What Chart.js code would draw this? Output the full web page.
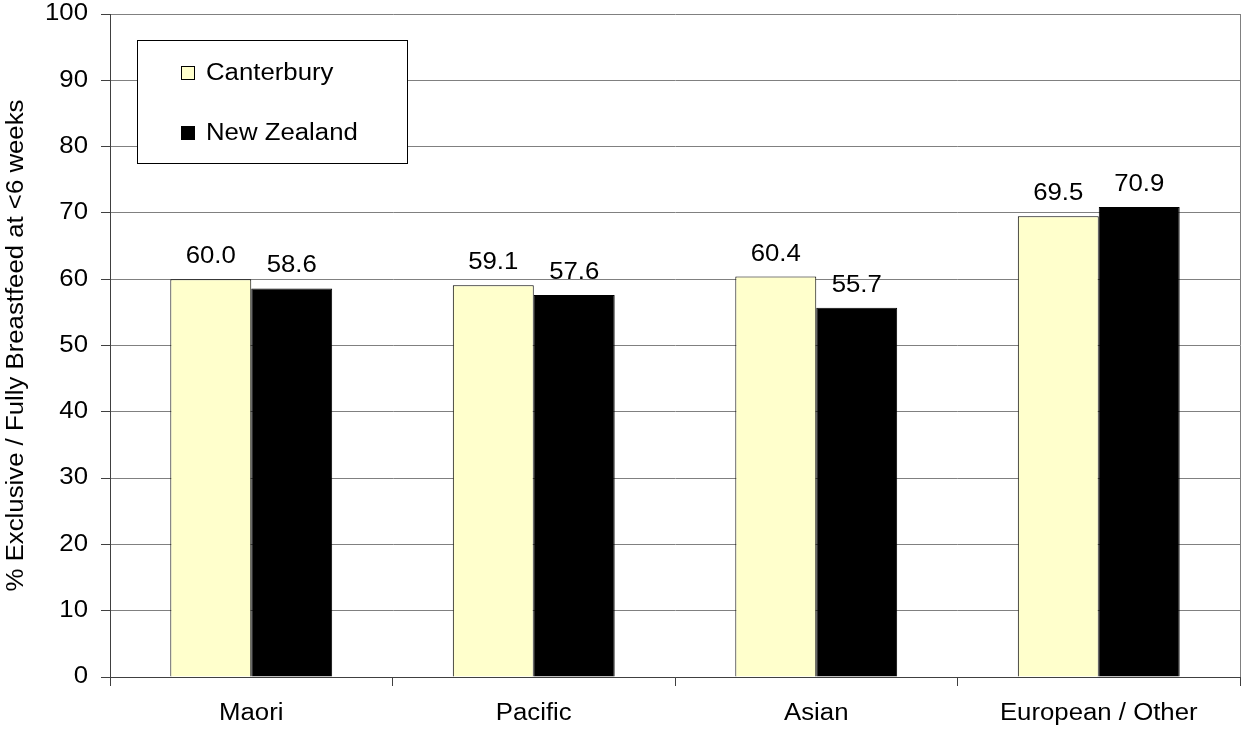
<!DOCTYPE html>
<html>
<head>
<meta charset="utf-8">
<title>Exclusive / Fully Breastfeed at &lt;6 weeks by ethnicity</title>
<script src="https://cdn.jsdelivr.net/npm/chart.js@4.4.1/dist/chart.umd.min.js"></script>
<style>
  html, body { margin: 0; padding: 0; background: #ffffff; }
  canvas { display: block; }
</style>
</head>
<body>
<canvas id="chart" width="1241" height="729"></canvas>
<script>
// ---- data ----
const categories = ['Maori', 'Pacific', 'Asian', 'European / Other'];
const seriesNames = ['Canterbury', 'New Zealand'];
const canterbury = [60.0, 59.1, 60.4, 69.5];
const newZealand = [58.6, 57.6, 55.7, 70.9];
const yAxisTitle = '% Exclusive / Fully Breastfeed at <6 weeks';

// ---- styling ----
const FAMILY = "'Liberation Sans', Arial, sans-serif";
const FONT_SIZE = 23;
const FONT = FONT_SIZE + 'px ' + FAMILY;
const TEXT_WIDEN = 1.12;           // glyphs are drawn slightly wider than normal
const GRID = '#808080';
const AXIS = '#404040';

// Draws every piece of text a little wider along its own baseline.
const wideText = {
  id: 'wideText',
  beforeInit(chart) {
    const ctx = chart.ctx;
    const fill = ctx.fillText.bind(ctx);
    const measure = ctx.measureText.bind(ctx);
    ctx.fillText = function (text, x, y) {
      ctx.save();
      ctx.translate(x, y);
      ctx.scale(TEXT_WIDEN, 1);
      fill(text, 0, 0);
      ctx.restore();
    };
    ctx.measureText = function (text) {
      const m = measure(text);
      return {
        width: m.width * TEXT_WIDEN,
        actualBoundingBoxAscent: m.actualBoundingBoxAscent,
        actualBoundingBoxDescent: m.actualBoundingBoxDescent,
        actualBoundingBoxLeft: m.actualBoundingBoxLeft * TEXT_WIDEN,
        actualBoundingBoxRight: m.actualBoundingBoxRight * TEXT_WIDEN
      };
    };
  }
};

// Thin frame line on the right side of the plot area.
const plotFrame = {
  id: 'plotFrame',
  beforeDatasetsDraw(chart) {
    const { ctx, chartArea } = chart;
    ctx.save();
    ctx.strokeStyle = GRID;
    ctx.lineWidth = 1;
    ctx.beginPath();
    ctx.moveTo(chartArea.right + 0.5, chartArea.top);
    ctx.lineTo(chartArea.right + 0.5, chartArea.bottom);
    ctx.stroke();
    ctx.restore();
  }
};

// Value printed above each bar.
const valueLabels = {
  id: 'valueLabels',
  afterDatasetsDraw(chart) {
    const ctx = chart.ctx;
    ctx.save();
    ctx.font = FONT;
    ctx.fillStyle = '#000000';
    ctx.textAlign = 'center';
    ctx.textBaseline = 'alphabetic';
    chart.data.datasets.forEach((ds, i) => {
      chart.getDatasetMeta(i).data.forEach((bar, j) => {
        ctx.fillText(ds.data[j].toFixed(1), bar.x, bar.y - 16);
      });
    });
    ctx.restore();
  }
};

// Framed legend sitting inside the upper-left of the plot.
const boxedLegend = {
  id: 'boxedLegend',
  afterDraw(chart) {
    const { ctx, chartArea } = chart;
    const x = chartArea.left + 27, y = chartArea.top + 26, w = 270, h = 123;
    ctx.save();
    ctx.fillStyle = '#ffffff';
    ctx.fillRect(x, y, w, h);
    ctx.strokeStyle = '#000000';
    ctx.lineWidth = 1;
    ctx.strokeRect(x + 0.5, y + 0.5, w, h);
    ctx.font = FONT;
    ctx.textAlign = 'left';
    ctx.textBaseline = 'middle';
    chart.data.datasets.forEach((ds, i) => {
      const cy = y + 33 + i * 60;
      ctx.fillStyle = ds.backgroundColor;
      ctx.fillRect(x + 44.5, cy - 6.5, 13, 13);
      ctx.strokeStyle = '#000000';
      ctx.strokeRect(x + 44.5, cy - 6.5, 13, 13);
      ctx.fillStyle = '#000000';
      ctx.fillText(ds.label, x + 69, cy + 1);
    });
    ctx.restore();
  }
};

new Chart(document.getElementById('chart'), {
  type: 'bar',
  data: {
    labels: categories,
    datasets: [
      {
        label: seriesNames[0],
        data: canterbury,
        backgroundColor: '#FFFFCC',
        borderColor: '#000000',
        borderWidth: 1
      },
      {
        label: seriesNames[1],
        data: newZealand,
        backgroundColor: '#000000',
        borderColor: '#000000',
        borderWidth: 1
      }
    ]
  },
  options: {
    responsive: false,
    animation: false,
    events: [],
    categoryPercentage: 0.573,
    barPercentage: 1.0,
    layout: { padding: { top: 14, right: 1, left: 0, bottom: 0 } },
    plugins: {
      legend: { display: false },
      tooltip: { enabled: false },
      title: { display: false }
    },
    scales: {
      x: {
        afterFit(scale) {
          scale.height = 52;
          scale.paddingLeft = 0;
          scale.paddingRight = 0;
        },
        grid: {
          offset: true,
          drawOnChartArea: false,
          drawTicks: true,
          tickLength: 9,
          tickColor: AXIS
        },
        border: { display: true, color: AXIS, width: 1 },
        ticks: {
          color: '#000000',
          font: { family: FAMILY, size: FONT_SIZE },
          padding: 14,
          maxRotation: 0,
          autoSkip: false
        }
      },
      y: {
        min: 0,
        max: 100,
        afterFit(scale) {
          scale.width = 110;
          scale.paddingTop = 0;
          scale.paddingBottom = 0;
        },
        grid: {
          color: (c) => (c.tick && c.tick.value === 0 ? AXIS : GRID),
          lineWidth: 1,
          drawTicks: true,
          tickLength: 9,
          tickColor: AXIS
        },
        border: { display: true, color: AXIS, width: 1 },
        ticks: {
          stepSize: 10,
          color: '#000000',
          font: { family: FAMILY, size: FONT_SIZE },
          padding: 13
        },
        title: {
          display: true,
          text: yAxisTitle,
          color: '#000000',
          font: { family: FAMILY, size: FONT_SIZE },
          padding: { top: 3, bottom: 0 }
        }
      }
    }
  },
  plugins: [wideText, plotFrame, valueLabels, boxedLegend]
});
</script>
</body>
</html>
